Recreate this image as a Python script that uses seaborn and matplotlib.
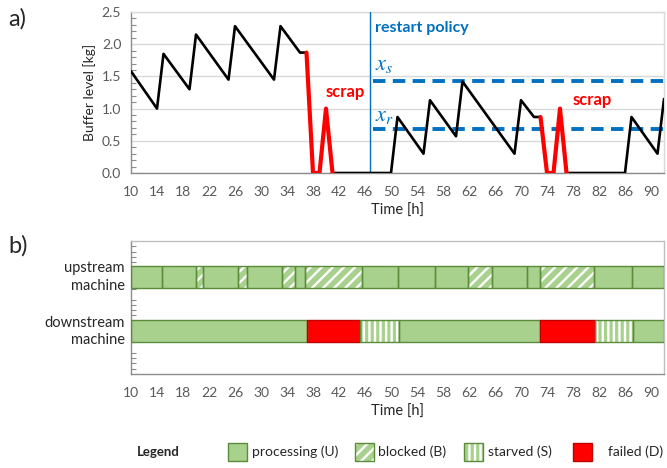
import numpy as np
import pandas as pd
import matplotlib
matplotlib.use("Agg")
import matplotlib.pyplot as plt
import seaborn as sns
from matplotlib.patches import Rectangle
from matplotlib.ticker import MultipleLocator

# ---- buffer level trace ----
buffer_time = [10, 14, 15, 19, 20, 25, 26, 32, 33, 36, 37, 38, 39, 40, 41, 50, 51,
               55, 56, 60, 61, 69, 70, 72, 73, 74, 75, 76, 77, 86, 87, 91, 92]
buffer_level = [1.58, 1.0, 1.85, 1.3, 2.15, 1.45, 2.28, 1.45, 2.28, 1.87, 1.87, 0.0,
                0.0, 1.0, 0.0, 0.0, 0.87, 0.3, 1.13, 0.57, 1.42, 0.3, 1.13, 0.87,
                0.87, 0.0, 0.0, 1.0, 0.0, 0.0, 0.87, 0.3, 1.15]
scrap_windows = [(37, 41), (73, 77)]
restart_time = 46.8
x_s_level = 1.43
x_r_level = 0.69

# ---- machine states (U processing, B blocked, S starved, D failed) ----
upstream_edges = [10, 14.7, 20, 21, 26.4, 27.9, 33.3, 35.3, 36.8, 45.5, 51, 56.8,
                  61.8, 65.5, 70.9, 72.9, 81.2, 87, 92]
upstream_states = ['U', 'U', 'B', 'U', 'B', 'U', 'B', 'U', 'B', 'U', 'U', 'U',
                   'B', 'U', 'U', 'B', 'U', 'U']
downstream_edges = [10, 37, 45.3, 51.3, 72.9, 81.4, 87.2, 92]
downstream_states = ['U', 'D', 'S', 'U', 'D', 'S', 'U']

machine_labels = ['upstream\nmachine', 'downstream\nmachine']
legend_labels = {'U': 'processing (U)', 'B': 'blocked (B)',
                 'S': 'starved (S)', 'D': 'failed (D)'}
time_ticks = list(range(10, 91, 4))

# ---- styling ----
sns.set_theme(style="white")
plt.rcParams['font.family'] = ['Lato', 'DejaVu Sans']
plt.rcParams['mathtext.fontset'] = 'stix'
plt.rcParams['hatch.linewidth'] = 1.7
plt.rcParams['hatch.color'] = 'white'

GREEN = '#A9D18E'
GREEN_EDGE = '#5B8C3A'
RED = '#FF0000'
RED_EDGE = '#C00000'
BLUE = '#0070C0'
AXIS_GREY = '#8C8C8C'
LIGHT_GREY = '#D9D9D9'
TICK_GREY = '#595959'

state_style = {
    'U': dict(face=GREEN, hatch=None, edge=GREEN_EDGE),
    'B': dict(face=GREEN, hatch='///', edge=GREEN_EDGE),
    'S': dict(face=GREEN, hatch='|||', edge=GREEN_EDGE),
    'D': dict(face=RED, hatch=None, edge=RED_EDGE),
}

W, H = 667, 468
fig = plt.figure(figsize=(W / 100, H / 100), dpi=100)
ax1 = fig.add_axes([131 / W, 1 - 173 / H, 533 / W, 161 / H])
ax2 = fig.add_axes([131 / W, 1 - 374 / H, 533 / W, 133 / H])

# ---- a) buffer level ----
bounds = sorted({buffer_time[0], buffer_time[-1]} | {t for w in scrap_windows for t in w})
rows = []
for k, (a, b) in enumerate(zip(bounds[:-1], bounds[1:])):
    kind = 'scrap' if (a, b) in scrap_windows else 'normal'
    for t, v in zip(buffer_time, buffer_level):
        if a <= t <= b:
            rows.append(dict(time=t, level=v, seg=k, kind=kind))
trace = pd.DataFrame(rows)

sns.lineplot(data=trace, x='time', y='level', units='seg', estimator=None,
             hue='kind', palette={'normal': 'black', 'scrap': RED},
             size='kind', sizes={'normal': 1.9, 'scrap': 3.0},
             sort=False, legend=False, ax=ax1, zorder=4)

ax1.axvline(restart_time, color=BLUE, lw=1.0, zorder=3)
for lvl in (x_s_level, x_r_level):
    ax1.plot([restart_time + 0.4, 92], [lvl, lvl], color=BLUE, lw=2.8,
             dashes=(3.2, 1.9), zorder=3)

ax1.text(47.6, 2.25, 'restart policy', color=BLUE, fontsize=11.5,
         fontweight='bold', va='center', ha='left')
ax1.text(49.0, 1.68, r'$x_s$', color=BLUE, fontsize=16, ha='center', va='center')
ax1.text(49.0, 0.88, r'$x_r$', color=BLUE, fontsize=16, ha='center', va='center')
ax1.text(43.0, 1.26, 'scrap', color=RED, fontsize=12, fontweight='bold',
         ha='center', va='center')
ax1.text(81.0, 1.13, 'scrap', color=RED, fontsize=12, fontweight='bold',
         ha='center', va='center')

ax1.set_xlim(10, 92)
ax1.set_ylim(0, 2.5)
ax1.set_yticks(np.arange(0, 2.51, 0.5))
ax1.set_yticklabels([f'{v:.1f}' for v in np.arange(0, 2.51, 0.5)])
ax1.yaxis.set_minor_locator(MultipleLocator(0.1))
ax1.grid(axis='y', color=LIGHT_GREY, lw=1.0, zorder=0)
ax1.set_ylabel('Buffer level [kg]', fontsize=10, color='#262626', labelpad=4)
ax1.set_xlabel('Time [h]', fontsize=10.5, color='#262626', labelpad=4)

# ---- b) machine states ----
lanes = [(3.65, upstream_edges, upstream_states),
         (1.6, downstream_edges, downstream_states)]
bar_h = 0.83
for y, edges, states in lanes:
    starts = np.array(edges[:-1])
    widths = np.diff(edges)
    for s0, w, st in zip(starts, widths, states):
        sty = state_style[st]
        ax2.barh(y, w, left=s0, height=bar_h, color=sty['face'],
                 hatch=sty['hatch'], edgecolor='white', linewidth=0, zorder=2)
        ax2.barh(y, w, left=s0, height=bar_h, fill=False,
                 edgecolor=sty['edge'], linewidth=1.0, zorder=3)

for (y, _, _), lab in zip(lanes, machine_labels):
    ax2.text(-0.012, y, lab, transform=ax2.get_yaxis_transform(),
             ha='right', va='center', fontsize=10.5, color='#262626',
             linespacing=1.35)

ax2.set_xlim(10, 92)
ax2.set_ylim(0, 5)
ax2.set_yticks(range(6))
ax2.set_yticklabels([])
ax2.yaxis.set_minor_locator(MultipleLocator(0.2))
ax2.set_xlabel('Time [h]', fontsize=10.5, color='#262626', labelpad=4)

# ---- shared axis styling ----
for ax in (ax1, ax2):
    ax.set_xticks(time_ticks)
    ax.set_xticklabels([str(t) for t in time_ticks])
    ax.xaxis.set_minor_locator(MultipleLocator(2))
    ax.tick_params(axis='x', which='both', direction='inout', length=7,
                   width=0.9, color=AXIS_GREY, labelsize=10,
                   labelcolor=TICK_GREY, pad=6)
    ax.tick_params(axis='y', which='major', direction='inout', length=8,
                   width=0.9, color=AXIS_GREY, labelsize=10,
                   labelcolor=TICK_GREY, pad=3)
    ax.tick_params(axis='y', which='minor', direction='in', length=3.5,
                   width=0.8, color=AXIS_GREY, left=True)
    for side in ('left', 'bottom'):
        ax.spines[side].set_color(AXIS_GREY)
        ax.spines[side].set_linewidth(1.0)
    for side in ('top', 'right'):
        ax.spines[side].set_visible(True)
        ax.spines[side].set_color(LIGHT_GREY if ax is ax1 else '#BFBFBF')
        ax.spines[side].set_linewidth(1.0)
    ax.set_facecolor('white')

# ---- panel letters ----
fig.text(8 / W, 1 - 19 / H, 'a)', fontsize=17, va='center', ha='left')
fig.text(8 / W, 1 - 246 / H, 'b)', fontsize=17, va='center', ha='left')

# ---- legend ----
def px(x, y):
    return x / W, 1 - y / H

fig.text(*px(137, 452), 'Legend', fontsize=9.5, fontweight='bold',
         va='center', ha='left')
legend_items = [('U', 228, 252), ('B', 355, 378), ('S', 464, 488), ('D', 573, 608)]
for st, bx, tx in legend_items:
    sty = state_style[st]
    x0, y0 = px(bx, 461)
    bw, bh = 19 / W, 18 / H
    fig.add_artist(Rectangle((x0, y0), bw, bh, transform=fig.transFigure,
                             facecolor=sty['face'], hatch=sty['hatch'],
                             edgecolor='white', linewidth=0))
    fig.add_artist(Rectangle((x0, y0), bw, bh, transform=fig.transFigure,
                             fill=False, edgecolor=sty['edge'], linewidth=1.0))
    fig.text(*px(tx, 452), legend_labels[st], fontsize=10, va='center',
             ha='left', color='#262626')

fig.savefig('out.png', dpi=100)
